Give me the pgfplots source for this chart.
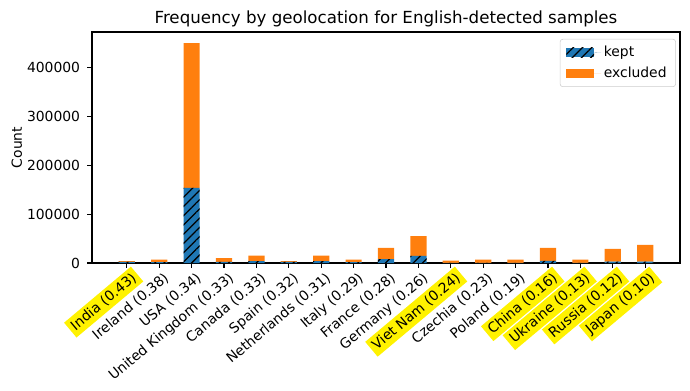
\documentclass[border=0pt]{standalone}
\usepackage{fontspec}
\setmainfont{DejaVu Sans}
\usepackage{pgfplots}
\pgfplotsset{compat=1.18}
\usetikzlibrary{patterns.meta}
\definecolor{tabblue}{HTML}{1F77B4}
\definecolor{taborange}{HTML}{FF7F0E}
\newcommand{\hl}[1]{{\setlength{\fboxsep}{2.5pt}\hspace*{-2.5pt}\raisebox{0pt}[\dimexpr\height-2.5pt][\dimexpr\depth-2.5pt]{\colorbox{yellow}{#1}}\hspace*{-2.5pt}}}
\newcommand{\nh}[1]{#1}
\pgfplotstableread{
x kept excluded
0 2500 1500
1 2000 5000
2 154000 297000
3 2500 7500
4 4000 11000
5 2500 1500
6 4000 11000
7 2000 5000
8 8000 23000
9 14400 40600
10 300 4700
11 300 6700
12 300 6700
13 4500 26500
14 300 6700
15 2700 26300
16 2700 34300
}\datatable
\begin{document}
\begin{tikzpicture}
\useasboundingbox (-66.24pt,-91.44pt) rectangle (430.56pt,189.36pt);
\begin{axis}[
  at={(0,0)}, anchor=south west,
  scale only axis, width=423.36pt, height=166.32pt,
  ybar stacked, bar width=0.5,
  xmin=-1.075, xmax=17.075, ymin=0, ymax=473700,
  xtick={0,...,16},
  xticklabels={\hl{India (0.43)},\nh{Ireland (0.38)},\nh{USA (0.34)},\nh{United Kingdom (0.33)},\nh{Canada (0.33)},\nh{Spain (0.32)},\nh{Netherlands (0.31)},\nh{Italy (0.29)},\nh{France (0.28)},\nh{Germany (0.26)},\hl{Viet Nam (0.24)},\nh{Czechia (0.23)},\nh{Poland (0.19)},\hl{China (0.16)},\hl{Ukraine (0.13)},\hl{Russia (0.12)},\hl{Japan (0.10)}},
  xticklabel style={font=\fontsize{10}{12}\selectfont, rotate=40, anchor=north east, inner sep=0pt, xshift=0.5pt, yshift=-3.5pt},
  ytick={0,100000,200000,300000,400000},
  scaled y ticks=false,
  yticklabel style={font=\fontsize{10}{12}\selectfont, /pgf/number format/fixed, /pgf/number format/1000 sep={}, /pgf/number format/assume math mode=true, inner sep=0pt, xshift=-4.9pt},
  tick align=outside, major tick length=3.5pt,
  xtick pos=bottom, ytick pos=left,
  tick style={black, line width=0.8pt},
  axis line style={line width=0.8pt},
  ylabel={Count},
  ylabel style={font=\fontsize{10}{12}\selectfont, yshift=0pt},
  title={Frequency by geolocation for English-detected samples},
  title style={font=\fontsize{12}{14}\selectfont, yshift=-6pt},
  legend style={at={(0.993,0.97)}, anchor=north east, draw=black!20, rounded corners=2pt, font=\fontsize{10}{12}\selectfont, row sep=2pt, inner xsep=4.5pt, inner ysep=3pt},
  legend cell align=left,
  legend image code/.code={\draw[#1, draw=none, sharp corners] (0pt,-3.4pt) rectangle (20pt,3.4pt); \path (20pt,0) -- (25pt,0);},
]
\addplot[fill=tabblue, draw=none, postaction={pattern={Lines[angle=45, distance=4.7pt, line width=0.9pt]}, pattern color=black}] table[x=x, y=kept] {\datatable};
\addlegendentry{kept}
\addplot[fill=taborange, draw=none] table[x=x, y=excluded] {\datatable};
\addlegendentry{excluded}
\end{axis}
\end{tikzpicture}
\end{document}
